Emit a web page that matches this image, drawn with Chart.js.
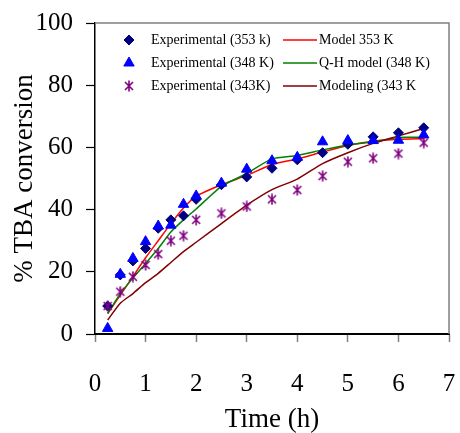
<!DOCTYPE html>
<html><head><meta charset="utf-8">
<script src="https://cdn.jsdelivr.net/npm/chart.js@4"></script>
<style>html,body{margin:0;padding:0;background:#fff}</style></head>
<body><canvas id="c" width="460" height="433"></canvas>
<script>
const times = [0.25,0.5,0.75,1,1.25,1.5,1.75,2,2.5,3,3.5,4,4.5,5,5.5,6,6.5];
const exp353 = [9,19,23.5,27.5,34,36.7,38,43.3,48,50.5,53.3,56,58.3,61,63.4,64.7,66.3];
const exp348 = [1.8,19.2,24.3,29.7,34.7,35,41.7,44.4,48.5,53,55.7,56.8,61.8,62.2,62.2,62.3,64];
const exp343 = [9,13.6,18.4,22.2,25.7,30,31.6,36.7,38.8,41,43.3,46.3,50.8,55.4,56.5,58,61.5];
const model353 = [6.6,12.5,18.5,24.5,30,35.5,40.5,44.3,48,51,54.5,56.3,58.5,60.6,62,62.6,62.8];
const qh348 = [6.6,13,18,22.7,27.5,32.8,36.7,40.2,47.5,51.6,56.3,57.4,59.2,60.8,61.8,63.2,63.2];
const model343 = [4.5,9.9,13,16.5,19.5,23,26.5,29.5,35.5,41.4,46.4,49.8,54.8,58.3,61.3,63.7,66.1];
const xTicks = [0,1,2,3,4,5,6,7];
const yTicks = [0,20,40,60,80,100];
const labels = ['Experimental (353 k)','Experimental (348 K)','Experimental (343K)','Model 353 K','Q-H model (348 K)','Modeling (343 K'];

const FONT = "'Liberation Serif', 'Times New Roman', serif";
const pts = (ys) => times.map((t,i)=>({x:t,y:ys[i]}));

// asterisk marker
const star = document.createElement('canvas');
star.width = 12; star.height = 12;
(function(){const g=star.getContext('2d');g.strokeStyle='#800080';g.lineWidth=1.6;
g.beginPath();g.moveTo(2,2);g.lineTo(10,10);g.moveTo(10,2);g.lineTo(2,10);g.moveTo(6,0.5);g.lineTo(6,11.5);g.stroke();})();

const frame = {
  id:'frame',
  afterDatasetsDraw(chart){
    const {ctx, chartArea:a} = chart;
    ctx.save(); ctx.strokeStyle='#808080'; ctx.lineWidth=1.5;
    ctx.beginPath(); ctx.moveTo(a.left,a.top); ctx.lineTo(a.right,a.top); ctx.lineTo(a.right,a.bottom); ctx.stroke();
    ctx.restore();
  }
};
const legendPlugin = {
  id:'legend2',
  afterDraw(chart){
    const ctx = chart.ctx; const ds = chart.data.datasets;
    ctx.save(); ctx.font = "normal 14px "+FONT; ctx.textBaseline='middle';
    const rows=[40,63,86];
    for(let i=0;i<3;i++){
      const d = ds[i];
      ctx.fillStyle=d.backgroundColor; ctx.strokeStyle=d.borderColor; ctx.lineWidth=1;
      Chart.helpers.drawPoint(ctx,{pointStyle:d.pointStyle,radius:d.pointRadius,rotation:0,borderWidth:1},129,rows[i]);
      ctx.fillStyle='#000'; ctx.fillText(d.label,151,rows[i]);
    }
    for(let i=0;i<3;i++){
      const d = ds[i+3];
      ctx.strokeStyle=d.borderColor; ctx.lineWidth=d.borderWidth;
      ctx.beginPath(); ctx.moveTo(283,rows[i]); ctx.lineTo(317,rows[i]); ctx.stroke();
      ctx.fillStyle='#000'; ctx.fillText(d.label,319,rows[i]);
    }
    ctx.restore();
  }
};

new Chart(document.getElementById('c'),{
  type:'scatter',
  data:{datasets:[
    {label:labels[0],data:pts(exp353),pointStyle:'rectRot',pointRadius:5,backgroundColor:'#000080',borderColor:'#000080',borderWidth:1,order:3},
    {label:labels[1],data:pts(exp348),pointStyle:'triangle',pointRadius:6,backgroundColor:'#0000FF',borderColor:'#0000FF',borderWidth:1,order:2},
    {label:labels[2],data:pts(exp343),pointStyle:star,pointRadius:6,backgroundColor:'#800080',borderColor:'#800080',order:1},
    {label:labels[3],data:pts(model353),showLine:true,pointRadius:0,borderColor:'#FF0000',borderWidth:1.5,tension:0.2,order:6},
    {label:labels[4],data:pts(qh348),showLine:true,pointRadius:0,borderColor:'#008000',borderWidth:1.5,tension:0.2,order:5},
    {label:labels[5],data:pts(model343),showLine:true,pointRadius:0,borderColor:'#800000',borderWidth:1.5,tension:0.2,order:4}
  ]},
  options:{
    responsive:false, animation:false, events:[],
    layout:{padding:{left:0,right:11,top:23,bottom:0}},
    plugins:{legend:{display:false},tooltip:{enabled:false}},
    scales:{
      x:{type:'linear',min:0,max:7,
        afterBuildTicks:s=>{s.ticks=xTicks.map(v=>({value:v}));},
        ticks:{color:'#000',font:{family:FONT,size:25,weight:'normal'},padding:27,maxRotation:0},
        grid:{drawOnChartArea:false,tickLength:8,tickColor:'#808080',tickWidth:1.5},
        border:{color:'#000',width:2},
        title:{display:true,text:'Time (h)',color:'#000',font:{family:FONT,size:27,weight:'normal',lineHeight:1},padding:{top:0,bottom:0}},
        afterFit:s=>{s.height=99;s.paddingLeft=0;s.paddingRight=0;}},
      y:{type:'linear',min:0,max:100,
        afterBuildTicks:s=>{s.ticks=yTicks.map(v=>({value:v}));},
        ticks:{color:'#000',font:{family:FONT,size:25,weight:'normal'},padding:13},
        grid:{drawOnChartArea:false,tickLength:9,tickColor:'#000',tickWidth:1.2},
        border:{color:'#000',width:1.5},
        title:{display:true,text:'% TBA conversion',color:'#000',font:{family:FONT,size:27,weight:'normal',lineHeight:1},padding:{top:11,bottom:0}},
        afterFit:s=>{s.width=95;s.paddingTop=0;s.paddingBottom=0;}}
    }
  },
  plugins:[frame,legendPlugin]
});
</script>
</body></html>
